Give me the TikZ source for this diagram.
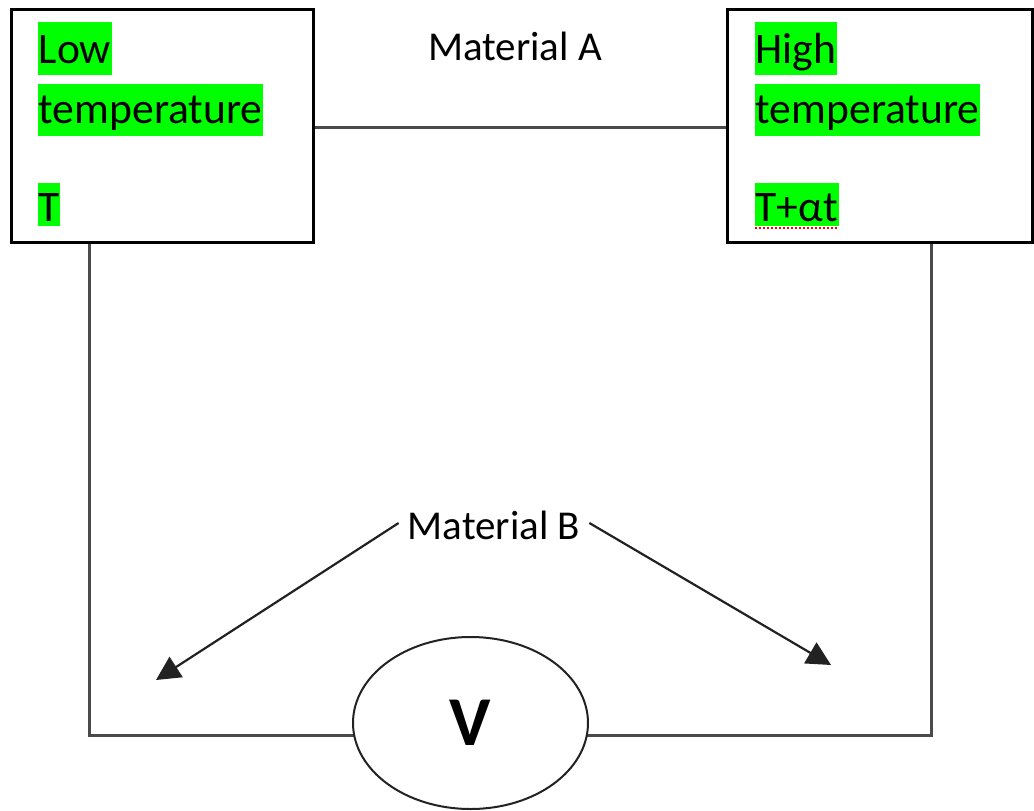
\documentclass[tikz,border=0pt]{standalone}
\usepackage{fontspec}
\setmainfont{Carlito}
\usetikzlibrary{shapes.geometric,arrows.meta}
\definecolor{hlgreen}{HTML}{00FF00}
\definecolor{wiregray}{HTML}{4A4A4A}
\definecolor{arrowgray}{HTML}{222222}
\tikzset{
  tempbox/.style={draw=black,line width=3pt,rectangle,inner sep=0pt},
  hl/.style={fill=hlgreen,inner xsep=0.5pt,inner ysep=0pt,anchor=base west,
             font=\fontsize{43.6}{50}\selectfont},
  label/.style={font=\fontsize{41}{50}\selectfont,inner sep=0pt},
  wire/.style={draw=wiregray,line width=3pt},
  pointer/.style={draw=arrowgray,line width=2.2pt,
                  -{Triangle[length=24pt,width=24pt]}},
  meter/.style={ellipse,draw=arrowgray,line width=2pt,fill=white,
                minimum width=235pt,minimum height=172pt,inner sep=0pt,
                font=\fontsize{70}{80}\selectfont\bfseries}
}
\begin{document}
\begin{tikzpicture}[x=1pt,y=-1pt]
\useasboundingbox (0,0) rectangle (1034,811);

% junction boxes
\node[tempbox,minimum width=302pt,minimum height=232.7pt] (low) at (162,125.7) {};
\node[tempbox,minimum width=305pt,minimum height=232.7pt] (high) at (879.5,125.7) {};

% highlighted labels, cold side
\node[hl,text height=41.3pt,text depth=11.7pt] (lowa) at (38,63.3) {Low};
\node[hl,text height=39.3pt,text depth=12.7pt] (lowb) at (38,123.3) {temperature};
\node[hl,text height=38pt,text depth=5pt] (lowc) at (38,221) {T};

% highlighted labels, hot side
\node[hl,text height=41.3pt,text depth=11.7pt] (higha) at (755,63.3) {High};
\node[hl,text height=39.3pt,text depth=12.7pt] (highb) at (755,123.3) {temperature};
\node[hl,text height=38pt,text depth=5pt] (highc) at (755,221) {T+αt};
\draw[red,line width=2pt,dash pattern=on 2pt off 2pt]
  (highc.south west) ++(0,1.5) -- ++(82,0);

% material A link between the boxes
\node[label,anchor=base] (matA) at (515,60) {Material A};
\coordinate (ay) at (0,127);
\draw[wire] (low.east |- ay) -- (high.west |- ay);

% material B leads down to the voltmeter
\coordinate (cl) at (89,735);
\coordinate (cr) at (931,735);
\draw[wire] (low.south -| cl) -- (cl) -- (cr) -- (high.south -| cr);
\node[meter] (volt) at (470.5,723) {V};

% material B label with its pointers
\node[label,anchor=base,inner xsep=9pt,text height=32pt,text depth=0pt] (matB) at (494,539) {Material B};
\coordinate (tipL) at (156,680);
\coordinate (tipR) at (831,665);
\draw[pointer] (matB.west) -- (tipL);
\draw[pointer] (matB.east) -- (tipR);
\end{tikzpicture}
\end{document}
